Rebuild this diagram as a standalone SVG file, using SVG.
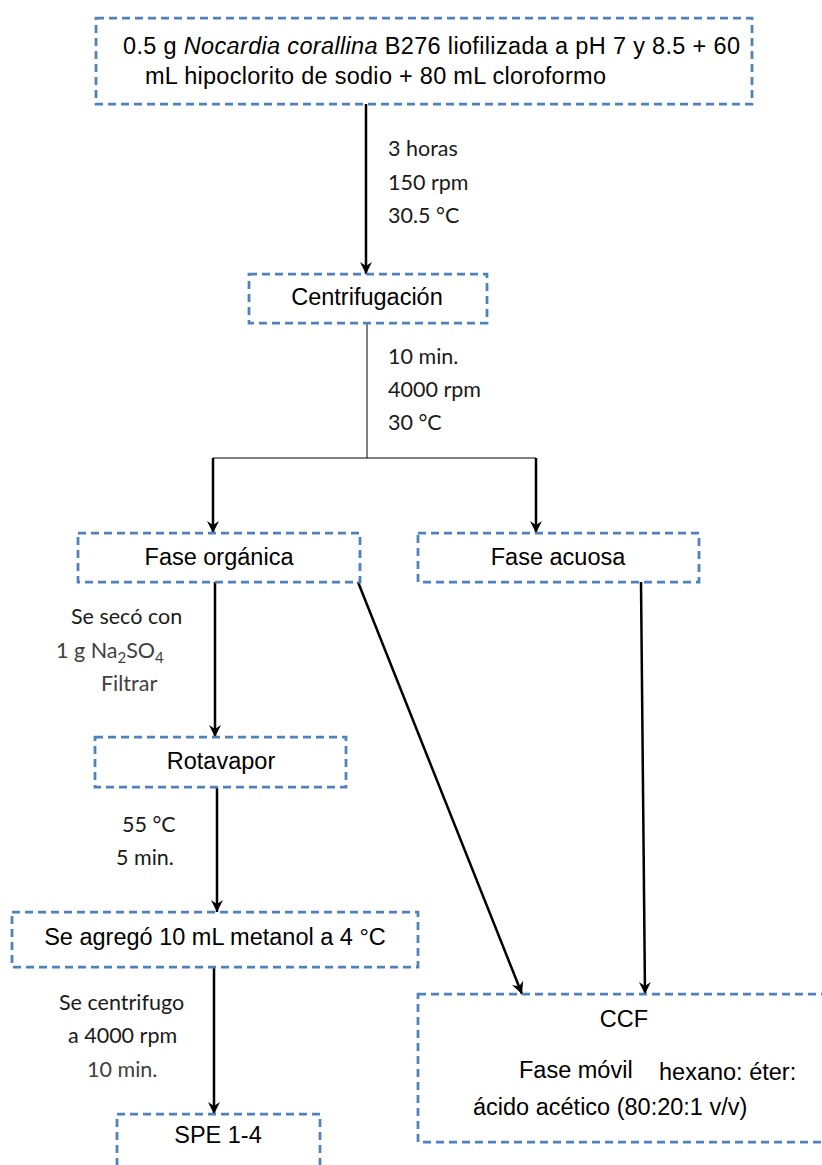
<svg xmlns="http://www.w3.org/2000/svg" width="822" height="1165" viewBox="0 0 822 1165">
<defs>
<marker id="ah2" markerUnits="userSpaceOnUse" markerWidth="14" markerHeight="14" viewBox="0 0 14 14" refX="13" refY="7" orient="auto">
<path d="M1,1 L13,7 L1,13 L5,7 Z" fill="#000"/>
</marker>
</defs>
<style>
.box{fill:none;stroke:#4F81BD;stroke-width:2.75;stroke-dasharray:8 5}
.t{font-family:"Liberation Sans",Arial,sans-serif;font-size:23.5px;fill:#000}
.l{font-family:"Lato","Open Sans",sans-serif;font-size:21.5px;fill:#1a1a1a}
.g{fill:#404040}
.a{stroke:#000;stroke-width:2.5;fill:none}
.th{stroke:#000;stroke-width:1;fill:none}
</style>
<rect width="822" height="1165" fill="#fff"/>
<g id="connectors">
<line class="a" x1="366" y1="104" x2="366" y2="274" marker-end="url(#ah2)"/>
<line class="th" x1="367" y1="323" x2="367" y2="458"/>
<line class="th" x1="213" y1="458" x2="536" y2="458"/>
<line class="a" x1="213" y1="458" x2="213" y2="533" marker-end="url(#ah2)"/>
<line class="a" x1="536" y1="458" x2="536" y2="533" marker-end="url(#ah2)"/>
<line class="a" x1="215" y1="582" x2="215" y2="737" marker-end="url(#ah2)"/>
<line class="a" x1="358" y1="582" x2="522" y2="994" marker-end="url(#ah2)"/>
<line class="a" x1="641" y1="582" x2="645" y2="994" marker-end="url(#ah2)"/>
<line class="a" x1="217" y1="787" x2="217" y2="912" marker-end="url(#ah2)"/>
<line class="a" x1="214" y1="967" x2="214" y2="1114" marker-end="url(#ah2)"/>
</g>
<g id="labels">
<text class="l" x="388" y="156">3 horas</text>
<text class="l" x="388" y="190">150 rpm</text>
<text class="l" x="388" y="223">30.5 °C</text>
<text class="l" x="388" y="364">10 min.</text>
<text class="l" x="388" y="397">4000 rpm</text>
<text class="l" x="388" y="430">30 °C</text>
<text class="l" x="71" y="624">Se secó con</text>
<text class="l g" x="56" y="658">1 g Na<tspan font-size="15" dy="5">2</tspan><tspan dy="-5">SO</tspan><tspan font-size="15" dy="5">4</tspan></text>
<text class="l g" x="101" y="691">Filtrar</text>
<text class="l" x="122" y="832">55 °C</text>
<text class="l" x="116" y="865">5 min.</text>
<text class="l" x="59" y="1010">Se centrifugo</text>
<text class="l" x="68" y="1043">a 4000 rpm</text>
<text class="l g" x="87" y="1077">10 min.</text>
</g>
<g id="n1">
<rect class="box" x="96" y="18" width="656" height="86"/>
<text class="t" x="123" y="54" font-size="24" textLength="617" lengthAdjust="spacing">0.5 g <tspan font-style="italic">Nocardia corallina</tspan> B276 liofilizada  a pH 7 y 8.5 + 60</text>
<text class="t" x="145" y="84" font-size="24" textLength="461" lengthAdjust="spacing">mL hipoclorito de sodio + 80 mL cloroformo</text>
</g>
<g id="n2">
<rect class="box" x="249" y="274" width="238" height="49"/>
<text class="t" x="367" y="305" text-anchor="middle">Centrifugación</text>
</g>
<g id="n3">
<rect class="box" x="78" y="533" width="282" height="49"/>
<text class="t" x="219" y="565" text-anchor="middle">Fase orgánica</text>
</g>
<g id="n4">
<rect class="box" x="418" y="533" width="281" height="49"/>
<text class="t" x="558" y="565" text-anchor="middle">Fase acuosa</text>
</g>
<g id="n5">
<rect class="box" x="95" y="737" width="251" height="50"/>
<text class="t" x="221" y="769" text-anchor="middle">Rotavapor</text>
</g>
<g id="n6">
<rect class="box" x="12" y="912" width="406" height="55"/>
<text class="t" x="215" y="945" text-anchor="middle">Se agregó 10 mL metanol  a 4 °C</text>
</g>
<g id="n7">
<rect class="box" x="117" y="1114" width="203" height="70"/>
<text class="t" x="218" y="1143" text-anchor="middle">SPE 1-4</text>
</g>
<g id="n8">
<rect class="box" x="418" y="994" width="420" height="148"/>
<text class="t" x="624" y="1027" text-anchor="middle">CCF</text>
<text class="t" x="519" y="1078" font-size="25.5">Fase móvil</text>
<text class="t" x="659" y="1080" font-size="24.5">hexano: éter:</text>
<text class="t" x="473" y="1115" font-size="25.5">ácido acético (80:20:1 v/v)</text>
</g>
</svg>
